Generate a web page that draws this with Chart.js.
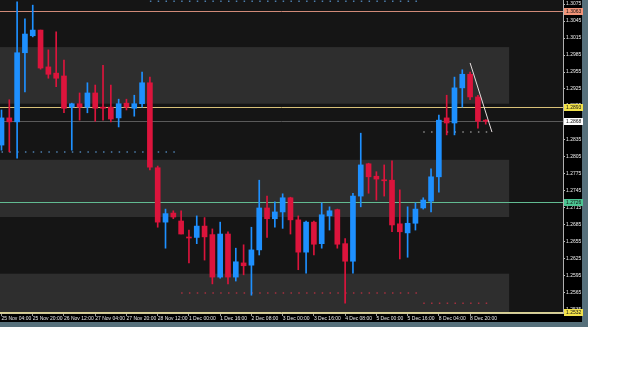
<!DOCTYPE html>
<html><head><meta charset="utf-8">
<script src="https://cdn.jsdelivr.net/npm/chart.js@4.4.1/dist/chart.umd.min.js"></script>
<style>html,body{margin:0;padding:0;background:#fff;}canvas{position:absolute;left:0;top:0;}</style>
</head><body>
<canvas id="c" width="588" height="327"></canvas>
<script>
// ---- data (EURUSD H4 candles) ----
const openP  = [1.2826,1.2874,1.2867,1.2989,1.3019,1.3029,1.2964,1.2953,1.2948,1.2893,1.2899,1.2893,1.2918,1.2893,1.2893,1.2874,1.2900,1.2891,1.2899,1.2936,1.2786,1.2690,1.2706,1.2692,1.2663,1.2663,1.2683,1.2668,1.2593,1.2669,1.2593,1.2618,1.2614,1.2641,1.2715,1.2696,1.2708,1.2733,1.2694,1.2637,1.2690,1.2652,1.2701,1.2712,1.2652,1.2621,1.2736,1.2793,1.2771,1.2764,1.2764,1.2687,1.2671,1.2688,1.2715,1.2727,1.2770,1.2874,1.2865,1.2927,1.2951,1.2911,1.2870];
const highP  = [1.2888,1.2906,1.3079,1.3049,1.3073,1.3029,1.2994,1.3026,1.2976,1.2900,1.2918,1.2936,1.2932,1.2967,1.2932,1.2907,1.2907,1.2914,1.2955,1.2946,1.2789,1.2713,1.2710,1.2710,1.2676,1.2701,1.2698,1.2678,1.2690,1.2673,1.2644,1.2650,1.2681,1.2764,1.2736,1.2726,1.2740,1.2734,1.2701,1.2692,1.2692,1.2724,1.2717,1.2713,1.2661,1.2741,1.2847,1.2794,1.2779,1.2791,1.2798,1.2747,1.2717,1.2724,1.2733,1.2784,1.2879,1.2914,1.2946,1.2959,1.2955,1.2914,1.2871];
const lowP   = [1.2817,1.2814,1.2803,1.2920,1.3017,1.2960,1.2944,1.2929,1.2883,1.2817,1.2870,1.2883,1.2868,1.2870,1.2867,1.2858,1.2888,1.2877,1.2893,1.2782,1.2681,1.2644,1.2696,1.2669,1.2618,1.2652,1.2623,1.2581,1.2591,1.2581,1.2586,1.2597,1.2561,1.2632,1.2663,1.2681,1.2679,1.2669,1.2606,1.2600,1.2632,1.2644,1.2676,1.2644,1.2547,1.2600,1.2717,1.2741,1.2729,1.2736,1.2673,1.2625,1.2628,1.2676,1.2713,1.2708,1.2743,1.2844,1.2844,1.2893,1.2906,1.2856,1.2863];
const closeP = [1.2874,1.2867,1.2989,1.3022,1.3029,1.2962,1.2951,1.2944,1.2891,1.2899,1.2893,1.2918,1.2891,1.2891,1.2872,1.2899,1.2893,1.2899,1.2936,1.2787,1.2690,1.2705,1.2699,1.2669,1.2662,1.2683,1.2664,1.2593,1.2669,1.2593,1.2620,1.2613,1.2641,1.2715,1.2696,1.2708,1.2733,1.2694,1.2637,1.2690,1.2651,1.2703,1.2710,1.2651,1.2621,1.2736,1.2791,1.2770,1.2766,1.2763,1.2685,1.2673,1.2688,1.2713,1.2729,1.2770,1.2870,1.2865,1.2927,1.2951,1.2911,1.2868,1.2868];

const xTickIdx    = [0,4,8,12,16,20,24,28,32,36,40,44,48,52,56,60];
const xTickLabels = ['25 Nov 04:00','25 Nov 20:00','26 Nov 12:00','27 Nov 04:00','27 Nov 20:00','28 Nov 12:00','1 Dec 00:00','1 Dec 16:00','2 Dec 08:00','3 Dec 00:00','3 Dec 16:00','4 Dec 08:00','5 Dec 00:00','5 Dec 16:00','8 Dec 04:00','8 Dec 20:00'];
const yTickValues = [1.2535,1.2565,1.2595,1.2625,1.2655,1.2685,1.2715,1.2745,1.2775,1.2805,1.2835,1.2865,1.2895,1.2925,1.2955,1.2985,1.3015,1.3045,1.3075];

// horizontal levels (price, label)
const levelPrices = [1.3063, 1.2893, 1.2868, 1.2726, 1.2532];
const levelLabels = ['1.3063','1.2893','1.2868','1.2726','1.2532'];

// supply / demand zones
const zoneTop    = [1.2999, 1.2800, 1.2599];
const zoneBottom = [1.2899, 1.2699, 1.2520];
const zoneEndIdx = 65;

// trend line
const trendX = [60, 62.8];
const trendY = [1.2971, 1.2849];

// dotted indicator rows: [fromIdx, toIdx, price]
const dotRowFrom  = [0, 54, 23, 54, 19];
const dotRowTo    = [22, 62, 53, 62, 53];
const dotRowPrice = [1.2814, 1.2849, 1.2565, 1.2547, 1.3080];

// ---- styling ----
const BULL = '#1e90ff', BEAR = '#dc143c';
const levelColors = ['#d08a78','#d8c078','#5a5a5a','#62bb92','#d8d090'];
const levelBoxColors = ['#f39478','#f2e24a','#ffffff','#4cc492','#f2e24a'];
const dotColors = ['#4d7fae','#8a8a8a','#a5303f','#a5303f','#4d7fae'];
const FONT = {family:'"Liberation Sans", Arial, sans-serif', size:5};

const idx = openP.map((_, i) => i);
const colors = idx.map(i => closeP[i] > openP[i] ? BULL : BEAR);

const datasets = [
  {type:'line', data: trendX.map((x,i)=>({x, y: trendY[i]})), borderColor:'#e6dede', borderWidth:1, pointRadius:0, order:0},
  {type:'bar', data: idx.map(i => ({x:i, y:[openP[i], closeP[i]]})), backgroundColor: colors, barThickness:5, minBarLength:1, grouped:false, borderWidth:0, order:1},
  {type:'bar', data: idx.map(i => ({x:i, y:[lowP[i], highP[i]]})), backgroundColor: colors, barThickness:1, grouped:false, borderWidth:0, order:2},
];
dotRowPrice.forEach((p, k) => {
  datasets.push({type:'line', data:[{x:dotRowFrom[k], y:p},{x:dotRowTo[k]+0.2, y:p}], borderColor: dotColors[k], borderWidth:1.5, borderDash:[1.5, 6.31], pointRadius:0, order:3});
});

const PX = 7.81;
const xMin = -1.5 / PX, xMax = (563 - 1.5) / PX;
const yMin = 1.25296, yMax = 1.30821;

const frame = {
  id:'frame',
  beforeDraw(chart){
    const {ctx, chartArea:a, width, height} = chart;
    ctx.save();
    ctx.fillStyle = '#56707b'; ctx.fillRect(0,0,width,height);
    ctx.fillStyle = '#000'; ctx.fillRect(0,0,width-6,height-5);
    ctx.fillStyle = '#151515'; ctx.fillRect(a.left,a.top,a.right-a.left,a.bottom-a.top);
    ctx.restore();
  },
  beforeDatasetsDraw(chart){
    const {ctx, chartArea:a, scales:{x, y}} = chart;
    ctx.save();
    ctx.beginPath(); ctx.rect(a.left,a.top,a.right-a.left,a.bottom-a.top); ctx.clip();
    ctx.fillStyle = '#2e2e2e';
    const xe = x.getPixelForValue(zoneEndIdx);
    zoneTop.forEach((t,k)=>{
      const y1 = y.getPixelForValue(t), y2 = y.getPixelForValue(zoneBottom[k]);
      ctx.fillRect(a.left, y1, xe - a.left, y2 - y1);
    });
    levelPrices.forEach((p,k)=>{
      const yy = Math.round(y.getPixelForValue(p)) + 0.5;
      ctx.strokeStyle = levelColors[k]; ctx.lineWidth = 1;
      ctx.beginPath(); ctx.moveTo(a.left, yy); ctx.lineTo(a.right, yy); ctx.stroke();
    });
    ctx.restore();
  },
  afterDraw(chart){
    const {ctx, chartArea:a, scales:{y}} = chart;
    ctx.save();
    ctx.font = '5px "Liberation Sans", Arial, sans-serif';
    ctx.textBaseline = 'middle'; ctx.textAlign = 'left';
    levelPrices.forEach((p,k)=>{
      const yy = Math.round(y.getPixelForValue(p));
      ctx.fillStyle = levelBoxColors[k];
      ctx.fillRect(a.right + 1, yy - 3, 19, 7);
      ctx.fillStyle = '#111';
      ctx.fillText(levelLabels[k], a.right + 3, yy + 0.5);
    });
    ctx.restore();
  }
};

new Chart(document.getElementById('c'), {
  type:'bar',
  data:{datasets},
  options:{
    responsive:false, animation:false, devicePixelRatio:1,
    layout:{padding:0},
    plugins:{legend:{display:false}, tooltip:{enabled:false}},
    scales:{
      x:{type:'linear', position:'bottom', min:xMin, max:xMax, offset:false,
        grid:{display:true, drawOnChartArea:false, drawTicks:true, tickLength:3, color:'#9a9a9a', offset:false},
        border:{display:true, color:'#cfc79a'},
        ticks:{autoSkip:false, maxRotation:0, minRotation:0, align:'start', padding:0, color:'#e6e6e6', font:FONT,
          callback:(v,i)=>xTickLabels[i]},
        afterBuildTicks:s=>{ s.ticks = xTickIdx.map(v=>({value:v})); },
        afterFit:s=>{ s.height = 14; s.paddingLeft = 0; s.paddingRight = 0; }
      },
      y:{type:'linear', position:'right', min:yMin, max:yMax,
        grid:{display:true, drawOnChartArea:false, tickLength:2, color:'#bbbbbb'},
        border:{display:true, color:'#b0b0b0'},
        ticks:{color:'#eeeeee', padding:1, font:FONT, callback:v=>Number(v).toFixed(4)},
        afterBuildTicks:s=>{ s.ticks = yTickValues.map(v=>({value:v})); },
        afterFit:s=>{ s.width = 25; s.paddingTop = 0; s.paddingBottom = 0; }
      }
    }
  },
  plugins:[frame]
});
</script>
</body></html>
